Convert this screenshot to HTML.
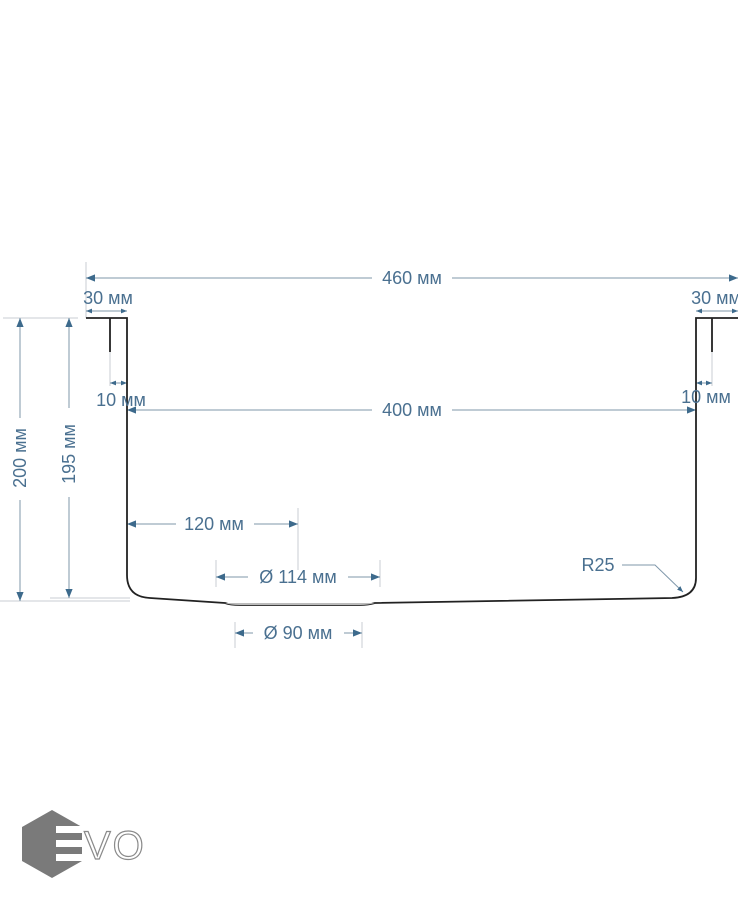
<!DOCTYPE html>
<html><head><meta charset="utf-8"><style>
html,body{margin:0;padding:0;background:#fff;}
svg{display:block;}
text{font-family:"Liberation Sans",sans-serif;fill:#4a7090;font-size:18px;}
</style></head><body>
<svg width="738" height="900" viewBox="0 0 738 900" xmlns="http://www.w3.org/2000/svg">
<defs>
<marker id="a" viewBox="0 0 10 10" refX="10" refY="5" markerWidth="9" markerHeight="9" orient="auto-start-reverse" markerUnits="userSpaceOnUse"><path d="M0,1 L10,5 L0,9 z" fill="#3d6a8c"/></marker>
<marker id="s" viewBox="0 0 10 10" refX="10" refY="5" markerWidth="6" markerHeight="6" orient="auto-start-reverse" markerUnits="userSpaceOnUse"><path d="M0,1 L10,5 L0,9 z" fill="#3d6a8c"/></marker>
</defs>
<g stroke="#c8ced3" stroke-width="1" fill="none">
<line x1="86" y1="262" x2="86" y2="318"/>
<line x1="3" y1="318" x2="78" y2="318"/>
<line x1="0" y1="601" x2="130" y2="601"/>
<line x1="50" y1="598" x2="130" y2="598"/>
<line x1="110" y1="352" x2="110" y2="386"/>
<line x1="712" y1="352" x2="712" y2="386"/>
<line x1="298" y1="508" x2="298" y2="570"/>
<line x1="216" y1="560" x2="216" y2="587"/>
<line x1="380" y1="560" x2="380" y2="587"/>
<line x1="235" y1="622" x2="235" y2="648"/>
<line x1="362" y1="622" x2="362" y2="648"/>
</g>
<g stroke="#7f97aa" stroke-width="1" fill="none">
<line x1="86" y1="278" x2="372" y2="278" marker-start="url(#a)"/>
<line x1="452" y1="278" x2="738" y2="278" marker-end="url(#a)"/>
<line x1="86" y1="311" x2="127" y2="311" marker-start="url(#s)" marker-end="url(#s)"/>
<line x1="696" y1="311" x2="738" y2="311" marker-start="url(#s)" marker-end="url(#s)"/>
<line x1="110" y1="383" x2="127" y2="383" marker-start="url(#s)" marker-end="url(#s)"/>
<line x1="696" y1="383" x2="712" y2="383" marker-start="url(#s)" marker-end="url(#s)"/>
<line x1="127" y1="410" x2="372" y2="410" marker-start="url(#a)"/>
<line x1="452" y1="410" x2="696" y2="410" marker-end="url(#a)"/>
<line x1="20" y1="318" x2="20" y2="418" marker-start="url(#a)"/>
<line x1="20" y1="500" x2="20" y2="601" marker-end="url(#a)"/>
<line x1="69" y1="318" x2="69" y2="408" marker-start="url(#a)"/>
<line x1="69" y1="497" x2="69" y2="598" marker-end="url(#a)"/>
<line x1="127" y1="524" x2="176" y2="524" marker-start="url(#a)"/>
<line x1="254" y1="524" x2="298" y2="524" marker-end="url(#a)"/>
<line x1="216" y1="577" x2="248" y2="577" marker-start="url(#a)"/>
<line x1="348" y1="577" x2="380" y2="577" marker-end="url(#a)"/>
<line x1="235" y1="633" x2="253" y2="633" marker-start="url(#a)"/>
<line x1="344" y1="633" x2="362" y2="633" marker-end="url(#a)"/>
<polyline points="622,565 655,565 683,592" marker-end="url(#s)"/>
</g>
<g stroke="#222" stroke-width="1.8" fill="none">
<path d="M86,318 H127 V575 Q127,597 150,598 L225,603 Q230,605 240,605 H360 Q368,605 375,603 L672,598 Q696,597 696,578 V318 H738"/>
<line x1="110" y1="318" x2="110" y2="352"/>
<line x1="712" y1="318" x2="712" y2="352"/>
</g>
<path d="M225,603 Q230,605 240,605 H360 Q368,605 375,603 Z" fill="#bbb" stroke="none"/>
<text x="412" y="284" text-anchor="middle">460 мм</text>
<text x="108" y="304" text-anchor="middle">30 мм</text>
<text x="716" y="304" text-anchor="middle">30 мм</text>
<text x="121" y="406" text-anchor="middle">10 мм</text>
<text x="706" y="403" text-anchor="middle">10 мм</text>
<text x="412" y="416" text-anchor="middle">400 мм</text>
<text x="214" y="530" text-anchor="middle">120 мм</text>
<text x="298" y="583" text-anchor="middle">Ø 114 мм</text>
<text x="298" y="639" text-anchor="middle">Ø 90 мм</text>
<text x="598" y="571" text-anchor="middle">R25</text>
<text transform="translate(26,458) rotate(-90)" text-anchor="middle">200 мм</text>
<text transform="translate(75,454) rotate(-90)" text-anchor="middle">195 мм</text>
<polygon points="52,810 82,827 82,861 52,878 22,861 22,827" fill="#7a7a7a"/>
<rect x="56" y="826" width="28" height="7" fill="#fff"/>
<rect x="56" y="840" width="28" height="7" fill="#fff"/>
<rect x="56" y="854" width="28" height="7" fill="#fff"/>
<text x="84" y="859" style="font-size:40px;fill:#fff;stroke:#8a8a8a;stroke-width:1.2;letter-spacing:2px">VO</text>
</svg>
</body></html>
